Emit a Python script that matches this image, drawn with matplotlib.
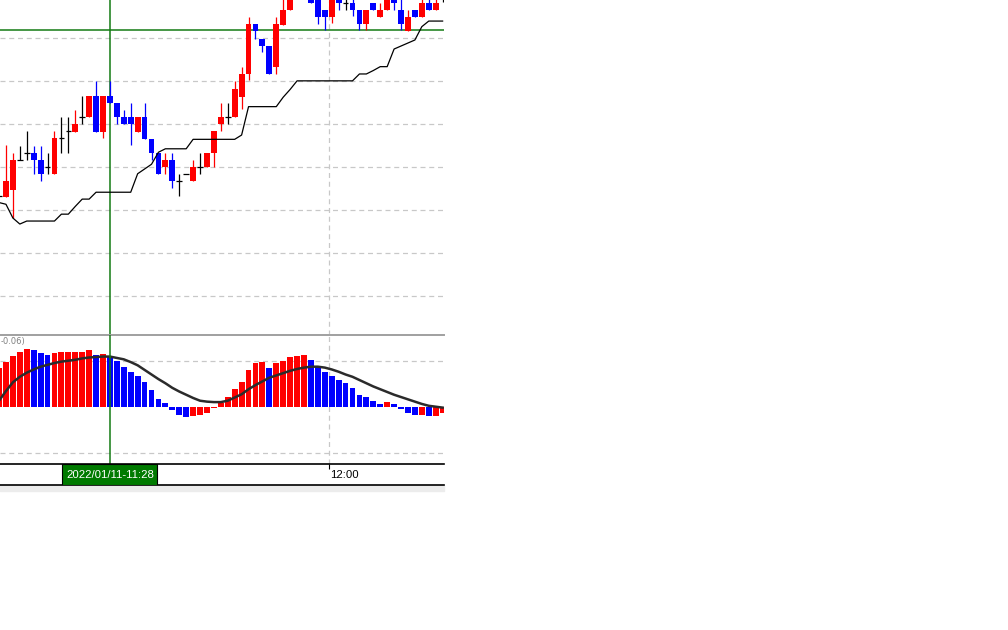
import numpy as np
import matplotlib.pyplot as plt
from matplotlib.patches import Rectangle

# 1-minute candles, index 0 = 11:12
opens = [123.3, 123.1, 124.7, 131.5, 133.2, 133.2, 131.6, 129.9, 128.3, 136.7,
         138.4, 138.2, 141.7, 141.6, 146.5, 138.2, 146.5, 144.8, 141.6, 141.6,
         138.2, 141.6, 136.5, 133.2, 129.9, 131.6, 126.7, 128.3, 126.6, 129.9,
         129.9, 133.2, 140.0, 141.6, 141.6, 146.3, 151.6, 163.3, 159.8, 158.1,
         153.2, 163.1, 166.5, 171.0, 172.0, 170.0, 169.5, 166.5, 164.8, 169.5,
         168.1, 168.1, 166.5, 163.2, 168.1, 164.8, 166.5, 169.5, 166.5, 161.6,
         166.5, 164.8, 168.1, 166.5, 169.5]
closes = [123.3, 126.7, 131.6, 131.5, 133.2, 131.5, 128.3, 129.9, 136.7, 136.7,
          138.4, 140.0, 141.7, 146.5, 138.2, 146.5, 144.8, 141.6, 140.0, 140.0,
          141.6, 136.5, 133.2, 128.3, 131.6, 126.6, 126.7, 128.3, 129.9, 129.9,
          133.2, 138.3, 141.7, 141.6, 148.1, 151.6, 163.3, 161.7, 158.1, 151.6,
          163.3, 166.5, 170.0, 172.5, 170.5, 168.1, 164.8, 164.8, 169.5, 168.1,
          168.1, 166.5, 163.2, 166.5, 166.5, 166.5, 169.5, 168.1, 163.2, 164.8,
          164.8, 168.1, 166.5, 168.1, 169.5]
highs = [123.3, 135.0, 133.2, 134.9, 138.4, 134.9, 134.9, 133.2, 138.4, 141.7,
         141.7, 143.3, 146.5, 146.5, 150.0, 146.5, 150.0, 144.8, 143.3, 144.8,
         141.6, 144.8, 136.5, 133.2, 133.2, 133.2, 128.3, 128.3, 131.6, 133.2,
         133.2, 138.3, 144.8, 144.8, 150.0, 153.3, 164.8, 163.3, 159.8, 158.1,
         164.8, 169.3, 171.0, 173.5, 173.0, 171.0, 170.5, 166.5, 170.0, 170.0,
         169.1, 169.1, 166.5, 166.5, 168.1, 168.1, 170.0, 170.0, 169.1, 166.5,
         166.5, 169.1, 169.1, 169.1, 170.0]
lows = [123.3, 123.1, 118.1, 131.5, 131.5, 128.4, 126.7, 128.4, 128.3, 133.3,
        133.3, 138.2, 140.0, 141.6, 138.2, 136.7, 144.8, 140.0, 140.0, 135.0,
        138.2, 136.5, 131.6, 128.3, 128.3, 125.0, 123.3, 128.3, 126.6, 128.3,
        129.9, 130.0, 138.4, 140.0, 141.6, 143.4, 150.1, 159.8, 156.6, 151.6,
        151.6, 163.1, 166.5, 170.0, 169.5, 168.1, 163.3, 161.9, 163.4, 166.5,
        166.5, 165.0, 161.9, 161.9, 166.5, 164.8, 166.5, 166.5, 161.9, 161.6,
        164.8, 164.8, 166.5, 166.5, 168.4]
stop_line = [121.7, 121.3, 118.1, 116.7, 117.4, 117.4, 117.4, 117.4, 117.4, 119.0,
             119.0, 120.8, 122.5, 122.5, 124.1, 124.1, 124.1, 124.1, 124.1, 124.1,
             128.4, 129.5, 130.6, 133.4, 134.2, 134.2, 134.2, 134.2, 136.4, 136.4,
             136.4, 136.4, 136.4, 136.4, 136.4, 137.4, 144.0, 144.0, 144.0, 144.0,
             144.0, 146.2, 148.0, 150.0, 150.0, 150.0, 150.0, 150.0, 150.0, 150.0,
             150.0, 150.0, 151.6, 151.6, 152.4, 153.3, 153.3, 157.4, 158.1, 158.8,
             159.5, 162.6, 163.9, 163.9, 163.9]
macd_hist = [0.085, 0.098, 0.110, 0.119, 0.125, 0.124, 0.117, 0.112, 0.117, 0.118,
             0.119, 0.119, 0.120, 0.123, 0.112, 0.115, 0.110, 0.100, 0.087, 0.076,
             0.067, 0.053, 0.036, 0.017, 0.007, -0.007, -0.018, -0.022, -0.020, -0.019,
             -0.013, -0.002, 0.008, 0.022, 0.038, 0.054, 0.080, 0.096, 0.098, 0.085,
             0.094, 0.099, 0.107, 0.111, 0.113, 0.102, 0.087, 0.075, 0.067, 0.058,
             0.052, 0.041, 0.025, 0.020, 0.012, 0.006, 0.011, 0.006, -0.006, -0.013,
             -0.017, -0.017, -0.020, -0.020, -0.014]
macd_signal = [0.013, 0.034, 0.053, 0.065, 0.074, 0.081, 0.087, 0.091, 0.095, 0.098,
               0.100, 0.102, 0.105, 0.107, 0.108, 0.109, 0.109, 0.106, 0.103, 0.097,
               0.090, 0.080, 0.070, 0.060, 0.051, 0.041, 0.033, 0.026, 0.019, 0.013,
               0.011, 0.010, 0.010, 0.013, 0.020, 0.027, 0.038, 0.047, 0.055, 0.063,
               0.068, 0.073, 0.078, 0.082, 0.085, 0.087, 0.087, 0.085, 0.081, 0.076,
               0.070, 0.065, 0.058, 0.051, 0.044, 0.038, 0.032, 0.026, 0.021, 0.016,
               0.011, 0.006, 0.002, 0.000, -0.002]
cursor_index = 16
cursor_price = 161.9
cursor_label = '2022/01/11-11:28'
tick_index = [48]
tick_labels = ['12:00']
macd_caption = '-0.06)'

RED = '#ff0000'
BLUE = '#0000ff'
GREEN = '#137a13'
GRID = '#c8c8c8'

W, H = 1008, 630
def rect(x0, y0, x1, y1):  # pixel box -> figure fraction
    return [x0 / W, 1 - y1 / H, (x1 - x0) / W, (y1 - y0) / H]

fig = plt.figure(figsize=(W / 100, H / 100), dpi=100)
ax_p = fig.add_axes(rect(0, 0, 444, 335))
ax_m = fig.add_axes(rect(0, 335, 444, 464))
ax_t = fig.add_axes(rect(0, 464, 444, 484.5))
fig.patches.append(Rectangle((0, 1 - 491 / H), 444 / W, 6 / H,
                             transform=fig.transFigure, color='#ececec', zorder=-5))

x = np.arange(len(opens))
o = np.array(opens); c = np.array(closes)
h = np.array(highs); l = np.array(lows)
xlim = (0.14, 64.2)
grid_x = [t - 0.35 for t in tick_index]

for ax in (ax_p, ax_m, ax_t):
    ax.set_xlim(*xlim)
    ax.set_xticks([]); ax.set_yticks([])
    ax.patch.set_alpha(0)
    for s in ax.spines.values():
        s.set_visible(False)

# price panel
ax_p.set_ylim(90.9, 168.8)
for g in range(100, 170, 10):
    ax_p.axhline(g, color=GRID, lw=0.9, ls=(0, (4, 3)), zorder=0)
for gx in grid_x:
    ax_p.axvline(gx, color=GRID, lw=0.9, ls=(0, (4, 3)), zorder=0)
ax_p.axhline(cursor_price, color=GREEN, lw=1.1, zorder=1)
ax_p.axvline(cursor_index, color=GREEN, lw=1.1, zorder=1)

up = c > o
dn = c < o
dj = c == o
bw = 0.84
ax_p.vlines(x[up], l[up], h[up], color=RED, lw=0.9, zorder=2)
ax_p.vlines(x[dn], l[dn], h[dn], color=BLUE, lw=0.9, zorder=2)
ax_p.vlines(x[dj], l[dj], h[dj], color='black', lw=0.9, zorder=2)
ax_p.bar(x[up], (c - o)[up], bottom=o[up], width=bw, color=RED, zorder=3)
ax_p.bar(x[dn], (o - c)[dn], bottom=c[dn], width=bw, color=BLUE, zorder=3)
ax_p.hlines(c[dj], x[dj] - 0.4, x[dj] + 0.4, color='black', lw=0.9, zorder=3)
ax_p.plot(x, stop_line, color='black', lw=0.9, zorder=4)

# MACD panel
ax_m.set_ylim(-0.1246, 0.1559)
ax_m.spines['top'].set_visible(True)
ax_m.spines['top'].set_color('#a0a0a0')
ax_m.spines['top'].set_linewidth(1.4)
for g in (0.1, -0.1):
    ax_m.axhline(g, color=GRID, lw=0.9, ls=(0, (4, 3)), zorder=0)
for gx in grid_x:
    ax_m.axvline(gx, color=GRID, lw=0.9, ls=(0, (4, 3)), zorder=0)
hist = np.array(macd_hist)
rising = np.concatenate([[True], hist[1:] >= hist[:-1]])
ax_m.bar(x, hist, width=bw, color=np.where(rising, RED, BLUE), zorder=2)
ax_m.plot(x, macd_signal, color='#2b2b2b', lw=1.8, zorder=3)
ax_m.axvline(cursor_index, color=GREEN, lw=1.1, zorder=4)
ax_m.text(0.002, 0.946, macd_caption, transform=ax_m.transAxes, fontsize=6,
          color='#808080', va='center', ha='left')

# time strip
for side in ('top', 'bottom'):
    ax_t.spines[side].set_visible(True)
    ax_t.spines[side].set_color('black')
    ax_t.spines[side].set_linewidth(1.2)
tr = ax_t.get_xaxis_transform()
for gx, lab in zip(grid_x, tick_labels):
    ax_t.vlines(gx, 0.78, 1.0, color='black', lw=0.8, transform=tr)
    ax_t.text(gx + 0.12, 0.45, lab, transform=tr, fontsize=8.2,
              family='Liberation Sans', va='center', ha='left', color='black')
ax_t.add_patch(Rectangle((cursor_index - 6.85, 0.0), 13.7, 1.0, transform=tr,
                         facecolor='#007a00', edgecolor='black', lw=0.8, zorder=3))
ax_t.text(cursor_index, 0.47, cursor_label, transform=tr, fontsize=8.2,
          family='Liberation Sans', color='white', va='center', ha='center', zorder=4)

plt.savefig('out.png', dpi=100)
